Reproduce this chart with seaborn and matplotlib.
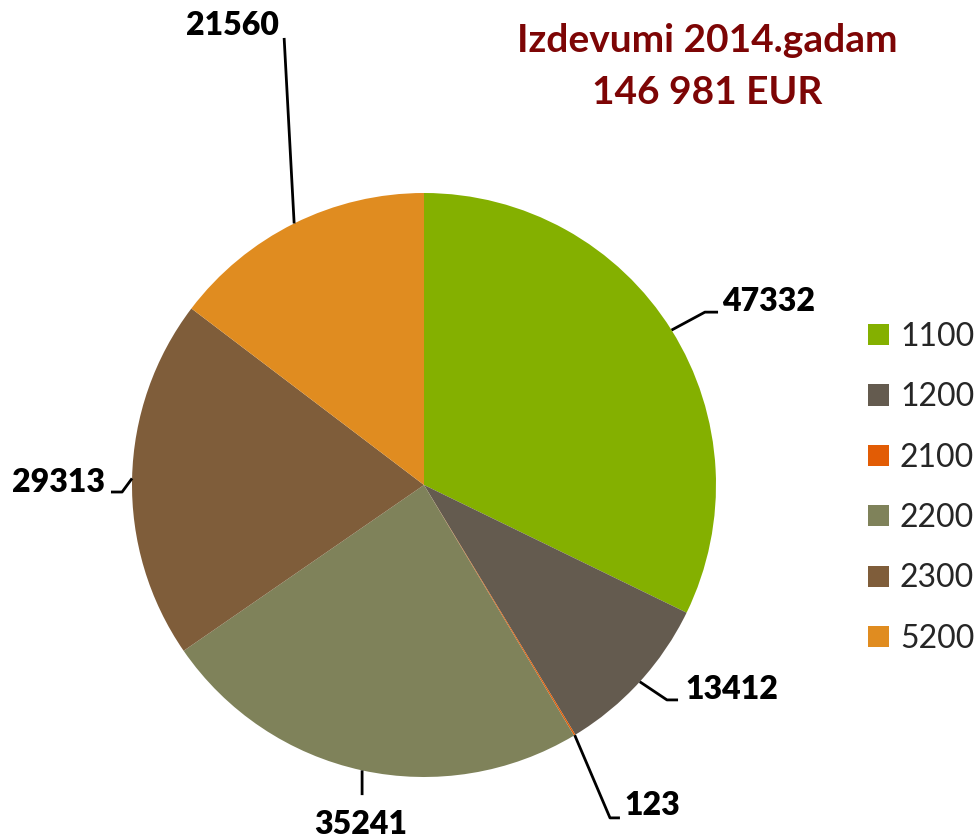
import matplotlib
matplotlib.use("Agg")
import matplotlib.pyplot as plt
from matplotlib.patches import Patch
import numpy as np
import seaborn as sns

# data
codes = ["1100", "1200", "2100", "2200", "2300", "5200"]
amounts = [47332, 13412, 123, 35241, 29313, 21560]
hex_colors = ["#84B000", "#645B4F", "#E25C05", "#7F825A", "#7F5D3A", "#E08C20"]
title_lines = ["Izdevumi 2014.gadam", "146 981 EUR"]

# label layout (pie radius = 1): elbow, end of leader, text anchor, alignment
label_elbow = [(0.962, 0.592), (0.832, -0.736), (0.637, -1.140), (-0.212, -1.062), (-1.034, -0.024), (-0.479, 1.531)]
label_end = [(1.007, 0.592), (0.870, -0.736), (0.671, -1.140), (-0.212, -1.062), (-1.072, -0.024), (-0.479, 1.531)]
label_text = [(1.021, 0.627), (0.894, -0.702), (0.688, -1.099), (-0.216, -1.164), (-1.092, 0.007), (-0.497, 1.575)]
label_ha = ["left", "left", "left", "center", "right", "right"]

sns.set_theme(style="white")
plt.rcParams["font.family"] = ["Lato", "DejaVu Sans"]
palette = sns.color_palette(hex_colors)

fig = plt.figure(figsize=(9.78, 8.4), dpi=100)
ax = fig.add_axes([0, 0, 1, 1])

wedges, _ = ax.pie(amounts, colors=palette, startangle=90, counterclock=False,
                   radius=1.0, wedgeprops=dict(linewidth=0))

# leader lines from wedge mid-angle to label
for w, el, en, tx, ha, v in zip(wedges, label_elbow, label_end, label_text, label_ha, amounts):
    mid = np.deg2rad((w.theta1 + w.theta2) / 2)
    x0, y0 = np.cos(mid), np.sin(mid)
    ax.plot([x0, el[0], en[0]], [y0, el[1], en[1]], color="black", lw=2, solid_capstyle="butt")
    ax.text(tx[0], tx[1], str(v), ha=ha, va="center", fontsize=23, fontweight="heavy", color="black")

ax.set_xlim(-424 / 292, 554 / 292)
ax.set_ylim(-355 / 292, 485 / 292)
ax.set_aspect("equal")
ax.axis("off")

fig.text(0.723, 0.952, title_lines[0], ha="center", va="center", fontsize=28,
         fontweight="bold", color="#7D0505")
fig.text(0.723, 0.890, title_lines[1], ha="center", va="center", fontsize=28,
         fontweight="bold", color="#7D0505")

handles = [Patch(facecolor=c, edgecolor="none") for c in palette]
fig.legend(handles, codes, loc="upper left", bbox_to_anchor=(868 / 978, 1 - 322 / 840),
           frameon=False, fontsize=23, handlelength=0.65, handleheight=0.65,
           handletextpad=0.35, labelspacing=0.95, borderpad=0, borderaxespad=0)

fig.savefig("out.png", dpi=100, facecolor="white")
